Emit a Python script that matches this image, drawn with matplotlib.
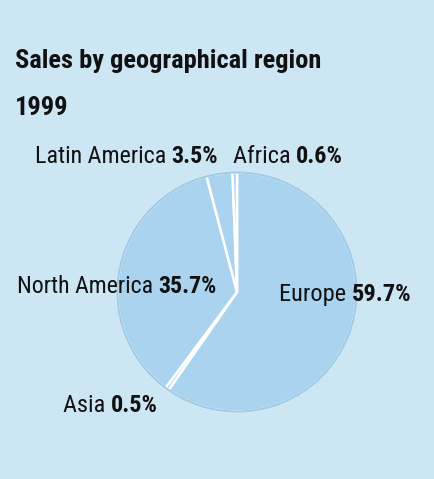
import matplotlib.pyplot as plt
from matplotlib import font_manager
from matplotlib.patches import Circle

# Sales share by region, 1999 (clockwise from 12 o'clock)
regions = ['Europe', 'Asia', 'North America', 'Latin America', 'Africa']
shares = [59.7, 0.5, 35.7, 3.5, 0.6]

# label boxes in pixels: left x, baseline y, right x
label_pos = {
    'Europe': (279, 301, 411),
    'Asia': (63, 412, 158),
    'North America': (17, 293, 217),
    'Latin America': (35, 163, 218),
    'Africa': (233, 163, 343),
}

W, H = 435, 479
bg = '#cce6f4'
slice_col = '#a9d3ee'
ink = '#111111'

names = {f.name for f in font_manager.fontManager.ttflist}
font = [f for f in ['Roboto Condensed', 'DejaVu Sans Condensed',
                    'Liberation Sans Narrow', 'Roboto', 'DejaVu Sans'] if f in names]

fig = plt.figure(figsize=(W / 100, H / 100), dpi=100, facecolor=bg)
renderer = fig.canvas.get_renderer()

# pie axes placed over the pie's bounding box (px 115..359, 170..414)
ax = fig.add_axes([115 / W, 1 - 414 / H, 244 / W, 244 / H])
ax.set_facecolor('none')
ax.pie(shares, startangle=90, counterclock=False, radius=1,
       colors=[slice_col] * len(shares),
       wedgeprops=dict(edgecolor='white', linewidth=1.8))
# hide the white rim, keep white only on the radial splits
ax.add_patch(Circle((0, 0), 1.0, fill=False, edgecolor='#a0cbe6', linewidth=1.6))
ax.set_xlim(-1.02, 1.02)
ax.set_ylim(-1.02, 1.02)
ax.set_aspect('equal')
ax.axis('off')

title = fig.text(15 / W, 1 - 68 / H, 'Sales by geographical region', family=font,
                 fontweight='bold', color=ink, va='baseline', fontsize=19)
# scale title so it spans 15..322 px like the original
k = (322 - 15) / title.get_window_extent(renderer).width
title.set_fontsize(19 * k)
fig.text(15 / W, 1 - 115 / H, '1999', family=font, fontweight='bold',
         color=ink, va='baseline', fontsize=19 * k)

for name, val in zip(regions, shares):
    px, py, pr = label_pos[name]
    t = fig.text(px / W, 1 - py / H, name + ' ', family=font, color=ink,
                 va='baseline', fontsize=17)
    p = ax.annotate(f'{val}%', xy=(1, 0), xycoords=t, va='bottom', ha='left',
                    family=font, fontweight='bold', color=ink, fontsize=17,
                    annotation_clip=False)
    w = t.get_window_extent(renderer).width + p.get_window_extent(renderer).width
    k = (pr - px) / w
    t.set_fontsize(17 * k)
    p.set_fontsize(17 * k)

fig.savefig('out.png', dpi=100, facecolor=bg)
